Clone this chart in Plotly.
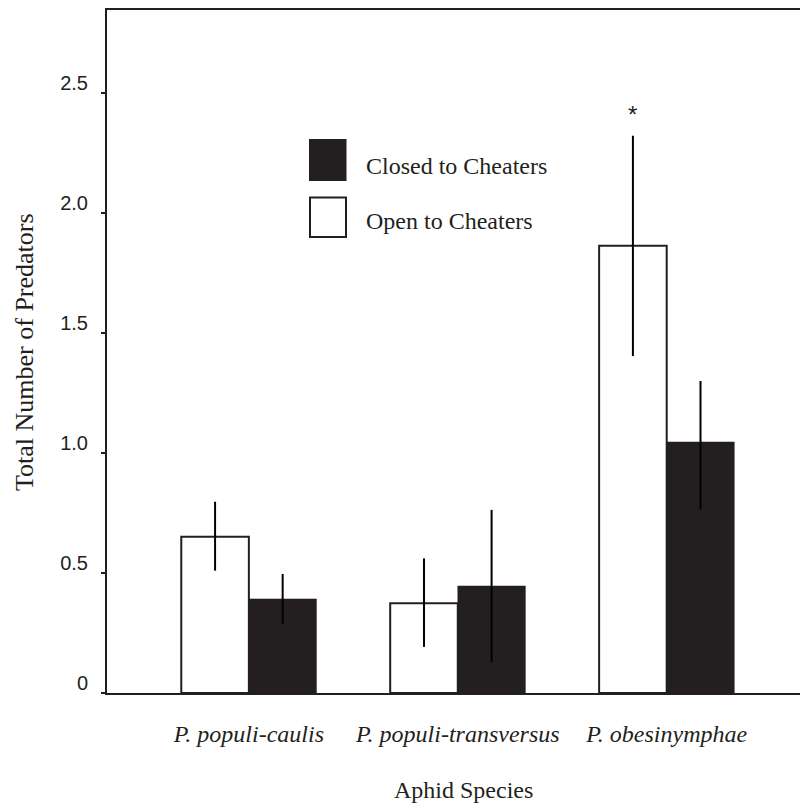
import plotly.graph_objects as go

# ---------------- data ----------------
species = ["P. populi-caulis", "P. populi-transversus", "P. obesinymphae"]
open_vals = [0.651, 0.374, 1.864]
open_err_plus = [0.146, 0.187, 0.458]
open_err_minus = [0.141, 0.182, 0.460]
closed_vals = [0.392, 0.446, 1.046]
closed_err_plus = [0.104, 0.317, 0.254]
closed_err_minus = [0.104, 0.317, 0.281]
y_ticks = [0, 0.5, 1.0, 1.5, 2.0, 2.5]
y_tick_labels = ["0", "0.5", "1.0", "1.5", "2.0", "2.5"]
legend_labels = ["Closed to Cheaters", "Open to Cheaters"]
x_title = "Aphid Species"
y_title = "Total Number of Predators"
star_text = "*"

# ---------------- style ----------------
W, H = 800, 806
ML, MR, MT, MB = 107, 0, 10, 113
INK = "#231f20"
SERIF = "Liberation Serif"
SANS = "Liberation Sans"
BARGAP = 0.353
X_RANGE = [-0.679, 2.638]
Y_RANGE = [0, 2.846]

pw = W - ML - MR
ph = H - MT - MB


def px_x(x):
    return (x - ML) / pw


def px_y(y):
    return 1 - (y - MT) / ph


fig = go.Figure()
fig.add_trace(go.Bar(
    x=species, y=open_vals, name=legend_labels[1],
    marker=dict(color="white", line=dict(color=INK, width=2)),
    error_y=dict(type="data", symmetric=False, array=open_err_plus,
                 arrayminus=open_err_minus, color="#000000", thickness=2, width=0),
))
fig.add_trace(go.Bar(
    x=species, y=closed_vals, name=legend_labels[0],
    marker=dict(color=INK, line=dict(color=INK, width=0.5)),
    error_y=dict(type="data", symmetric=False, array=closed_err_plus,
                 arrayminus=closed_err_minus, color="#000000", thickness=2, width=0),
))

# significance star above the open bar of the last species
bar_w = (1 - BARGAP) / 2
fig.add_annotation(
    x=len(species) - 1 - bar_w / 2, y=open_vals[2] + open_err_plus[2],
    xref="x", yref="y", text=star_text, showarrow=False,
    yanchor="bottom", yshift=6,
    font=dict(family=SANS, size=24, color=INK),
)

# manual legend
fig.add_shape(type="rect", xref="paper", yref="paper",
              x0=px_x(309), x1=px_x(346.5), y0=px_y(181), y1=px_y(139),
              fillcolor=INK, line=dict(color=INK, width=0))
fig.add_shape(type="rect", xref="paper", yref="paper",
              x0=px_x(310), x1=px_x(346), y0=px_y(237), y1=px_y(197.5),
              fillcolor="white", line=dict(color=INK, width=2))
fig.add_annotation(x=px_x(364), y=px_y(166), xref="paper", yref="paper",
                   text=legend_labels[0], showarrow=False, xanchor="left", yanchor="middle",
                   font=dict(family=SERIF, size=24, color=INK))
fig.add_annotation(x=px_x(364), y=px_y(221), xref="paper", yref="paper",
                   text=legend_labels[1], showarrow=False, xanchor="left", yanchor="middle",
                   font=dict(family=SERIF, size=24, color=INK))

# axis titles
fig.add_annotation(x=px_x(463), y=px_y(790), xref="paper", yref="paper",
                   text=x_title, showarrow=False, xanchor="center", yanchor="middle",
                   font=dict(family=SERIF, size=24, color=INK))
fig.add_annotation(x=px_x(24), y=px_y(352), xref="paper", yref="paper",
                   text=y_title, showarrow=False, xanchor="center", yanchor="middle",
                   textangle=-90,
                   font=dict(family=SERIF, size=26, color=INK))

fig.update_layout(
    width=W, height=H,
    margin=dict(l=ML, r=MR, t=MT, b=MB, pad=0),
    paper_bgcolor="white", plot_bgcolor="white",
    barmode="group", bargap=BARGAP, bargroupgap=0,
    showlegend=False,
)
fig.update_xaxes(
    type="category", range=X_RANGE, showline=True, linecolor=INK, linewidth=2,
    mirror=True, ticks="", showgrid=False, zeroline=False,
    tickfont=dict(family=SERIF, size=24, color=INK),
    ticklabelstandoff=18,
    tickprefix="<i>", ticksuffix="</i>",
)
fig.update_yaxes(
    range=Y_RANGE, showline=True, linecolor=INK, linewidth=2,
    ticks="outside", ticklen=4, tickwidth=1.5, tickcolor=INK,
    tickvals=y_ticks, ticktext=y_tick_labels,
    tickfont=dict(family=SANS, size=20, color=INK),
    ticklabelstandoff=9, ticklabelshift=-10,
    showgrid=False, zeroline=False,
)

fig.write_html("out.html")
